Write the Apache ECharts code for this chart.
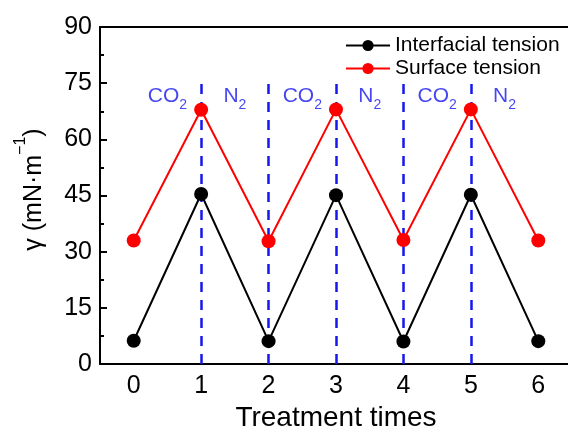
<!DOCTYPE html>
<html><head><meta charset="utf-8">
<script src="https://cdn.jsdelivr.net/npm/echarts@6/dist/echarts.min.js"></script>
<style>html,body{margin:0;padding:0;background:#fff}#c{width:568px;height:428px}</style>
</head><body><div id="c"></div>
<script>
var categories = ['0','1','2','3','4','5','6'];
var interfacialTension = [6.2, 45.4, 6.1, 45.1, 6.0, 45.2, 6.1];
var surfaceTension = [33.0, 67.9, 32.8, 68.0, 33.1, 68.0, 33.0];
var yTicks = {min: 0, max: 90, interval: 15};
var dividerPositions = ['1','2','3','4','5'];
var dividerTop = 75.5;
var gasLabels = [
  {x: 0.5, y: 71.5, gas: 'CO'}, {x: 1.5, y: 71.5, gas: 'N'},
  {x: 2.5, y: 71.5, gas: 'CO'}, {x: 3.5, y: 71.5, gas: 'N'},
  {x: 4.5, y: 71.5, gas: 'CO'}, {x: 5.5, y: 71.5, gas: 'N'}
];

var FONT = '"Liberation Sans", Arial, sans-serif';
var BLUE = '#1616ee';
var chart = echarts.init(document.getElementById('c'), null, {renderer: 'canvas'});

var markLineData = dividerPositions.map(function (p) {
  return [{coord: [p, 0]}, {coord: [p, dividerTop]}];
});

chart.setOption({
  animation: false,
  textStyle: {fontFamily: FONT},
  grid: {left: 100, top: 27, right: -4, bottom: 64, containLabel: false, outerBoundsMode: 'none'},
  legend: {
    orient: 'vertical', left: 340, top: 30, itemGap: 2,
    itemWidth: 44, itemHeight: 14,
    textStyle: {fontFamily: FONT, fontSize: 21, color: '#000'},
    data: ['Interfacial tension', 'Surface tension']
  },
  xAxis: [
    {
      type: 'category', data: categories, position: 'bottom', boundaryGap: true,
      axisLine: {onZero: false, lineStyle: {color: '#000', width: 2}},
      axisTick: {alignWithLabel: true, inside: true, length: 7, lineStyle: {color: '#000', width: 2}},
      axisLabel: {fontFamily: FONT, fontSize: 25, color: '#000', margin: 10},
      name: 'Treatment times', nameLocation: 'middle', nameGap: 38,
      nameTextStyle: {fontFamily: FONT, fontSize: 28, color: '#000'},
      splitLine: {show: false}
    },
    {
      type: 'category', data: categories, position: 'bottom', boundaryGap: true,
      axisLine: {show: false, onZero: false},
      axisTick: {alignWithLabel: false, inside: true, length: 4, lineStyle: {color: '#000', width: 2}},
      axisLabel: {show: false}, splitLine: {show: false}
    },
    {
      type: 'category', data: categories, position: 'top', boundaryGap: true,
      axisLine: {onZero: false, lineStyle: {color: '#000', width: 2}},
      axisTick: {show: false}, axisLabel: {show: false}, splitLine: {show: false}
    },
    {
      type: 'value', min: -0.5, max: 6.5, show: false
    }
  ],
  yAxis: {
    type: 'value', min: yTicks.min, max: yTicks.max, interval: yTicks.interval,
    axisLine: {show: true, onZero: false, lineStyle: {color: '#000', width: 2}},
    axisTick: {show: true, inside: true, length: 7, lineStyle: {color: '#000', width: 2}},
    minorTick: {show: true, splitNumber: 2, length: 4, lineStyle: {color: '#000', width: 2}},
    axisLabel: {fontFamily: FONT, fontSize: 25, color: '#000', margin: 8},
    splitLine: {show: false},
    name: '{n|γ (mN·m}{s|−1}{n|)}', nameLocation: 'middle', nameGap: 53, nameRotate: 90,
    nameTextStyle: {
      padding: [0, 0, 0, 12],
      rich: {
        n: {fontFamily: FONT, fontSize: 25, color: '#000', lineHeight: 34, verticalAlign: 'bottom'},
        s: {fontFamily: FONT, fontSize: 16, color: '#000', lineHeight: 34, verticalAlign: 'top'}
      }
    }
  },
  series: [
    {
      name: 'Interfacial tension', type: 'line', xAxisIndex: 0, data: interfacialTension,
      symbol: 'circle', symbolSize: 14, z: 5,
      lineStyle: {color: '#000', width: 2}, itemStyle: {color: '#000'},
      markLine: {
        silent: true, symbol: ['none', 'none'], label: {show: false},
        lineStyle: {color: BLUE, width: 2.5, type: [10, 8]},
        data: markLineData
      }
    },
    {
      name: 'Surface tension', type: 'line', xAxisIndex: 0, data: surfaceTension,
      symbol: 'circle', symbolSize: 14, z: 6,
      lineStyle: {color: '#ff0000', width: 2}, itemStyle: {color: '#ff0000'}
    },
    {
      name: 'gas', type: 'scatter', xAxisIndex: 3, symbolSize: 0, silent: true,
      data: gasLabels.map(function (g) { return {value: [g.x, g.y], gas: g.gas}; }),
      label: {
        show: true, position: 'inside',
        formatter: function (p) { return '{a|' + p.data.gas + '}{s|2}'; },
        rich: {
          a: {fontFamily: FONT, fontSize: 21, color: BLUE, lineHeight: 32, verticalAlign: 'middle'},
          s: {fontFamily: FONT, fontSize: 14, color: BLUE, lineHeight: 32, verticalAlign: 'bottom'}
        }
      }
    }
  ]
});
</script></body></html>
